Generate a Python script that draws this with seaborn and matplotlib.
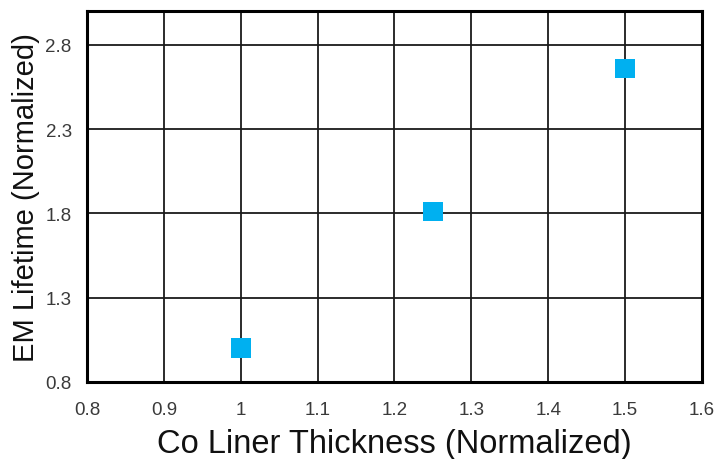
import matplotlib
matplotlib.use("Agg")
import matplotlib.pyplot as plt
import seaborn as sns
import pandas as pd

# Co liner thickness vs. electromigration lifetime (both normalized)
thickness = [1.0, 1.25, 1.5]
em_lifetime = [1.0, 1.81, 2.66]

x_ticks = [0.8, 0.9, 1.0, 1.1, 1.2, 1.3, 1.4, 1.5, 1.6]
x_tick_labels = ["0.8", "0.9", "1", "1.1", "1.2", "1.3", "1.4", "1.5", "1.6"]
y_ticks = [0.8, 1.3, 1.8, 2.3, 2.8]
y_tick_labels = ["0.8", "1.3", "1.8", "2.3", "2.8"]

df = pd.DataFrame({"thickness": thickness, "lifetime": em_lifetime})

sns.set_theme(style="white")
plt.rcParams["font.family"] = ["Liberation Sans", "DejaVu Sans"]

fig = plt.figure(figsize=(7.17, 4.60), dpi=100)
ax = fig.add_axes([0.1213, 0.1674, 0.8577, 0.8065])

sns.scatterplot(data=df, x="thickness", y="lifetime", ax=ax, marker="s",
                s=200, color="#00B0F0", edgecolor="none", zorder=3)

ax.set_xlim(0.8, 1.6)
ax.set_ylim(0.8, 3.0)
ax.set_xticks(x_ticks)
ax.set_xticklabels(x_tick_labels)
ax.set_yticks(y_ticks)
ax.set_yticklabels(y_tick_labels)

ax.grid(True, color="#1a1a1a", linewidth=1.3)
ax.set_axisbelow(True)
for side in ax.spines.values():
    side.set_visible(True)
    side.set_color("black")
    side.set_linewidth(2.2)

ax.tick_params(axis="both", length=0, labelsize=13.5, labelcolor="#3a3a3a")
ax.tick_params(axis="x", pad=14)
ax.tick_params(axis="y", pad=11)

ax.set_xlabel("Co Liner Thickness (Normalized)", fontsize=23.5, color="#111111", labelpad=7)
ax.set_ylabel("EM Lifetime (Normalized)", fontsize=21, color="#111111", labelpad=4)

fig.savefig("out.png", dpi=100)
